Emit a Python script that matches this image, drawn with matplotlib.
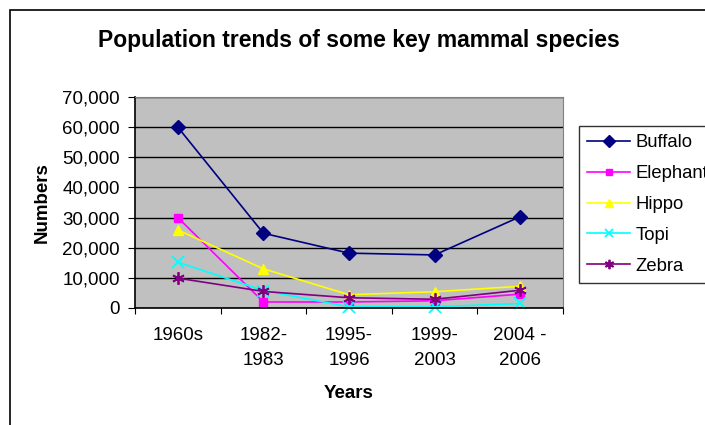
import matplotlib
matplotlib.use("Agg")
import matplotlib.pyplot as plt
from matplotlib.ticker import FuncFormatter, FixedLocator

plt.rcParams['font.family'] = ['Liberation Sans', 'DejaVu Sans']

years = ["1960s", "1982-\n1983", "1995-\n1996", "1999-\n2003", "2004 -\n2006"]
buffalo = [60000, 24800, 18200, 17600, 30300]
elephant = [30000, 2000, 2000, 2400, 4600]
hippo = [25900, 13000, 4400, 5400, 7200]
topi = [15200, 5800, 400, 400, 1500]
zebra = [9900, 5500, 3400, 2900, 5900]

series = [
    ("Buffalo", buffalo, "#000080", "D", 7.5),
    ("Elephant", elephant, "#FF00FF", "s", 6),
    ("Hippo", hippo, "#FFFF00", "^", 7),
    ("Topi", topi, "#00FFFF", "x", 8),
    ("Zebra", zebra, "#800080", (6, 2, 0), 9),
]

fig = plt.figure(figsize=(7.05, 4.25), dpi=100)
# outer chart border (right/bottom fall outside the crop)
fig.add_artist(plt.Rectangle((10 / 705, -0.1), 1.2, 1 - 10 / 425 + 0.1,
                             transform=fig.transFigure, fill=False,
                             edgecolor="black", linewidth=1.2))

ax = fig.add_axes([135 / 705, 1 - 308 / 425, 428 / 705, 211 / 425])
ax.set_facecolor("#C0C0C0")

x = list(range(len(years)))
for name, vals, col, mk, ms in series:
    ax.plot(x, vals, color=col, marker=mk, markersize=ms, linewidth=1.2,
            markeredgecolor=col, markeredgewidth=1.3 if mk in ("x", (6, 2, 0)) else 1,
            label=name, clip_on=False)

ax.set_xlim(-0.5, len(years) - 0.5)
ax.set_ylim(0, 70000)
ax.set_yticks(range(0, 70001, 10000))
ax.yaxis.set_major_formatter(FuncFormatter(lambda v, p: f"{int(v):,}"))
ax.grid(axis="y", color="black", linewidth=1)
ax.set_axisbelow(True)

ax.xaxis.set_major_locator(FixedLocator([i - 0.5 for i in range(len(years) + 1)]))
ax.xaxis.set_major_formatter(FuncFormatter(lambda v, p: ""))
ax.set_xticks(x, minor=True)
ax.set_xticklabels(years, minor=True, fontsize=13.5, linespacing=1.6)
ax.tick_params(axis="x", which="minor", length=0, pad=14)
ax.tick_params(axis="x", which="major", length=4, direction="out", color="black")
ax.tick_params(axis="y", length=5, direction="out", labelsize=13.5, pad=6)

for s in ("top", "right"):
    ax.spines[s].set_color("#808080")
for s in ("left", "bottom"):
    ax.spines[s].set_color("black")
    ax.spines[s].set_linewidth(1.2)

ax.set_ylabel("Numbers", fontsize=13.5, fontweight="bold", labelpad=8)
ax.set_xlabel("Years", fontsize=13.5, fontweight="bold", labelpad=11)

fig.text(359 / 705, 1 - 40 / 425, "Population trends of some key mammal species",
         ha="center", va="center", fontsize=16.5, fontweight="bold")

leg = ax.legend(loc="upper left", bbox_to_anchor=(579 / 705, 1 - 126 / 425),
                bbox_transform=fig.transFigure, frameon=True, fancybox=False,
                edgecolor="black", fontsize=13.3, handlelength=2.3, markerscale=0.75,
                labelspacing=0.75, borderpad=0.45, handletextpad=0.3,
                borderaxespad=0)
leg.get_frame().set_linewidth(1)

fig.savefig("out.png", dpi=100)
